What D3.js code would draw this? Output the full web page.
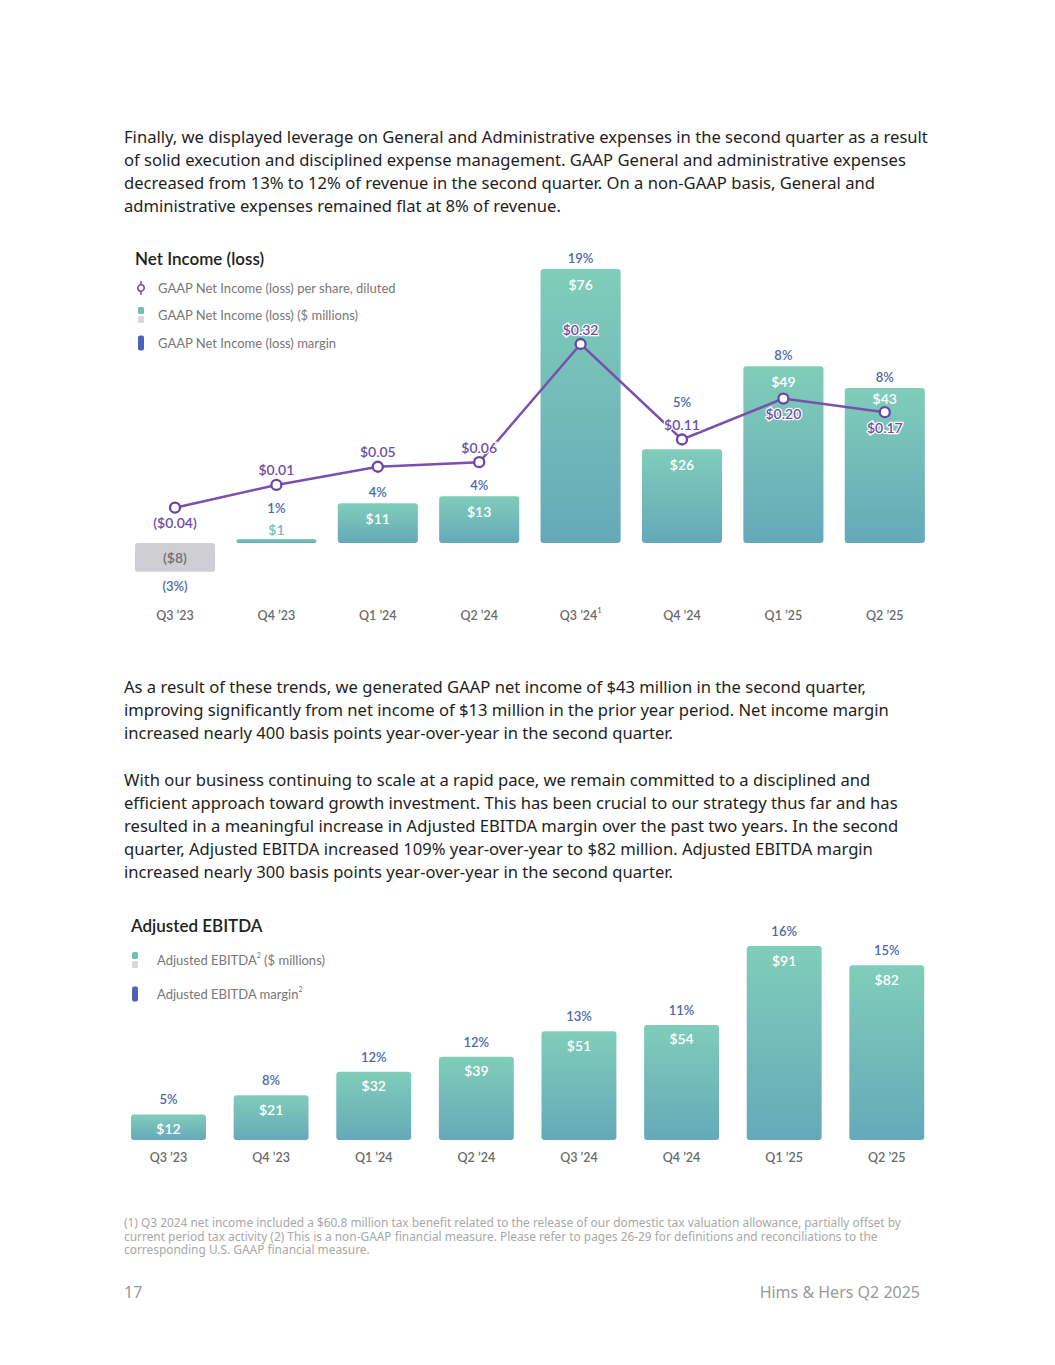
<!DOCTYPE html>
<html>
<head>
<meta charset="utf-8">
<script src="https://cdn.jsdelivr.net/npm/d3@7"></script>
<style>
  body { margin: 0; background: #fff; }
  svg { display: block; }
</style>
</head>
<body>
<div id="page"></div>
<script>
// quarters and values
const quarters = ["Q3 ’23", "Q4 ’23", "Q1 ’24", "Q2 ’24", "Q3 ’24", "Q4 ’24", "Q1 ’25", "Q2 ’25"];
const quarterNotes = ["", "", "", "", "1", "", "", ""];
const netIncome = [-8, 1, 11, 13, 76, 26, 49, 43];          // $ millions
const netIncomeMargin = [-3, 1, 4, 4, 19, 5, 8, 8];         // %
const eps = [-0.04, 0.01, 0.05, 0.06, 0.32, 0.11, 0.20, 0.17];
const ebitda = [12, 21, 32, 39, 51, 54, 91, 82];            // $ millions
const ebitdaMargin = [5, 8, 12, 12, 13, 11, 16, 15];        // %

const para1 = [
  "Finally, we displayed leverage on General and Administrative expenses in the second quarter as a result",
  "of solid execution and disciplined expense management. GAAP General and administrative expenses",
  "decreased from 13% to 12% of revenue in the second quarter. On a non-GAAP basis, General and",
  "administrative expenses remained flat at 8% of revenue."
];
const para2 = [
  "As a result of these trends, we generated GAAP net income of $43 million in the second quarter,",
  "improving significantly from net income of $13 million in the prior year period. Net income margin",
  "increased nearly 400 basis points year-over-year in the second quarter."
];
const para3 = [
  "With our business continuing to scale at a rapid pace, we remain committed to a disciplined and",
  "efficient approach toward growth investment. This has been crucial to our strategy thus far and has",
  "resulted in a meaningful increase in Adjusted EBITDA margin over the past two years. In the second",
  "quarter, Adjusted EBITDA increased 109% year-over-year to $82 million. Adjusted EBITDA margin",
  "increased nearly 300 basis points year-over-year in the second quarter."
];
const footnote = [
  "(1) Q3 2024 net income included a $60.8 million tax benefit related to the release of our domestic tax valuation allowance, partially offset by",
  "current period tax activity (2) This is a non-GAAP financial measure. Please refer to pages 26-29 for definitions and reconciliations to the",
  "corresponding U.S. GAAP financial measure."
];

const width = 1055, height = 1365;
const bodyFont = "'Noto Sans', 'Open Sans', sans-serif";
const chartFont = "Lato, 'Noto Sans', sans-serif";
const purple = "#6f4fa6", blue = "#4d67ad", grey = "#6f6f73";

const svg = d3.select("#page").append("svg")
  .attr("width", width)
  .attr("height", height);

const defs = svg.append("defs");
const grad = defs.append("linearGradient")
  .attr("id", "barGrad")
  .attr("x1", 0).attr("y1", 0).attr("x2", 0).attr("y2", 1);
grad.append("stop").attr("offset", "0%").attr("stop-color", "#80cdb9");
grad.append("stop").attr("offset", "100%").attr("stop-color", "#65a9b9");

function paragraph(lines, x, y0, lh) {
  svg.append("g").selectAll("text")
    .data(lines)
    .enter()
    .append("text")
    .attr("x", x)
    .attr("y", (d, i) => y0 + i * lh)
    .attr("dominant-baseline", "central")
    .style("font-family", bodyFont)
    .style("font-size", "16.6px")
    .style("fill", "#1e1e1e")
    .text(d => d);
}

paragraph(para1, 124, 136, 23.3);
paragraph(para2, 124, 686, 23);
paragraph(para3, 124, 779, 23);

const fmtMoney = v => v < 0 ? `($${-v})` : `$${v}`;
const fmtPct = v => v < 0 ? `(${-v}%)` : `${v}%`;
const fmtEps = v => v < 0 ? `($${(-v).toFixed(2)})` : `$${v.toFixed(2)}`;

function legend(g, items, textX) {
  items.forEach(it => {
    const row = g.append("g").attr("transform", `translate(0,${it.y})`);
    if (it.type === "line") {
      row.append("line").attr("x1", 6).attr("x2", 6).attr("y1", -7).attr("y2", 7)
        .style("stroke", purple).style("stroke-width", 1.5);
      row.append("circle").attr("cx", 6).attr("cy", 0).attr("r", 3.2)
        .style("fill", "#fff").style("stroke", purple).style("stroke-width", 1.5);
    } else if (it.type === "bar") {
      row.append("rect").attr("x", 3).attr("y", -8).attr("width", 6).attr("height", 7).attr("rx", 1.5)
        .style("fill", "#72c0b3");
      row.append("rect").attr("x", 3).attr("y", 1).attr("width", 6).attr("height", 7).attr("rx", 1.5)
        .style("fill", "#d8d8dc");
    } else {
      row.append("rect").attr("x", 3).attr("y", -7.5).attr("width", 6).attr("height", 15).attr("rx", 2)
        .style("fill", "#4a63b8");
    }
    const t = row.append("text")
      .attr("x", textX)
      .attr("y", 0)
      .attr("dominant-baseline", "central")
      .style("font-family", chartFont)
      .style("font-size", "13px")
      .style("fill", "#777");
    t.append("tspan").text(it.label);
    if (it.sup) {
      t.append("tspan").attr("dy", -5).style("font-size", "7px").text(it.sup);
      t.append("tspan").attr("dy", 5).text(it.after || "");
    }
  });
}

function xLabels(x, y, notes) {
  svg.append("g").selectAll("text")
    .data(quarters)
    .enter()
    .append("text")
    .attr("x", d => x(d) + x.bandwidth() / 2)
    .attr("y", y)
    .attr("text-anchor", "middle")
    .attr("dominant-baseline", "central")
    .style("font-family", chartFont)
    .style("font-size", "12.5px")
    .style("font-weight", 600)
    .style("fill", "#6a6a6a")
    .each(function(d, i) {
      const t = d3.select(this);
      t.append("tspan").text(d);
      if (notes && notes[i]) {
        t.append("tspan").attr("dy", -5).style("font-size", "7px").text(notes[i]);
      }
    });
}

// ---------- Net Income chart ----------
const x1 = d3.scaleBand()
  .domain(quarters)
  .range([124.3, 935.5])
  .paddingInner(0.21)
  .paddingOuter(0.105);
const y1 = d3.scaleLinear().domain([0, 76]).range([543, 269]);
const yEps = d3.scaleLinear().domain([0, 0.32]).range([489.5, 344]);

svg.append("text")
  .attr("x", 135).attr("y", 258)
  .attr("dominant-baseline", "central")
  .style("font-family", chartFont)
  .style("font-size", "17px")
  .style("font-weight", 600)
  .style("fill", "#222")
  .text("Net Income (loss)");

legend(svg.append("g").attr("transform", "translate(135,0)"), [
  { type: "line", y: 288, label: "GAAP Net Income (loss) per share, diluted" },
  { type: "bar", y: 315, label: "GAAP Net Income (loss) ($ millions)" },
  { type: "margin", y: 343, label: "GAAP Net Income (loss) margin" }
], 23);

const ni = quarters.map((q, i) => ({
  q, value: netIncome[i], margin: netIncomeMargin[i], eps: eps[i]
}));

// bars
svg.append("g").selectAll("rect")
  .data(ni)
  .enter()
  .append("rect")
  .attr("x", d => x1(d.q))
  .attr("width", x1.bandwidth())
  .attr("y", d => d.value >= 0 ? Math.min(y1(d.value), y1(0) - 4) : y1(0))
  .attr("height", d => Math.max(4, Math.abs(y1(d.value) - y1(0))))
  .attr("rx", 3)
  .style("fill", d => d.value >= 0 ? "url(#barGrad)" : "#cfcfd3");

// label layout
ni.forEach(d => {
  d.cx = x1(d.q) + x1.bandwidth() / 2;
  d.top = d.value >= 0 ? Math.min(y1(d.value), y1(0) - 4) : y1(0);
  d.bottom = d.value >= 0 ? y1(0) : y1(d.value);
  d.py = yEps(d.eps);
  d.tall = d.bottom - d.top > 30;
  // value label
  if (d.value < 0) { d.vy = (d.top + d.bottom) / 2; d.vInside = true; }
  else if (d.tall) {
    d.vy = d.py > d.top ? Math.min(d.top + 15, d.py - 14) : d.top + 15;
    d.vInside = true;
  }
  else { d.vy = d.top - 10; d.vInside = false; }
  // eps label
  const below = d.value < 0 || (d.py > d.top && d.py - d.top < 50);
  d.ey = below ? d.py + 15 : d.py - 15;
  // margin label
  const anchor = d.vInside ? d.top : d.vy - 10;
  if (d.value < 0) d.my = d.bottom + 14;
  else if (!below && d.py < anchor && anchor - d.py < 20) d.my = d.ey - 22;
  else d.my = anchor - 11;
});

svg.append("g").selectAll("text")
  .data(ni)
  .enter()
  .append("text")
  .attr("x", d => d.cx)
  .attr("y", d => d.vy)
  .attr("text-anchor", "middle")
  .attr("dominant-baseline", "central")
  .style("font-family", chartFont)
  .style("font-size", "14px")
  .style("font-weight", 600)
  .style("fill", d => d.value < 0 ? grey : (d.vInside ? "#fff" : "#6fc2b6"))
  .text(d => fmtMoney(d.value));

svg.append("g").selectAll("text")
  .data(ni)
  .enter()
  .append("text")
  .attr("x", d => d.cx)
  .attr("y", d => d.my)
  .attr("text-anchor", "middle")
  .attr("dominant-baseline", "central")
  .style("font-family", chartFont)
  .style("font-size", "13px")
  .style("font-weight", 600)
  .style("fill", blue)
  .text(d => fmtPct(d.margin));

// eps line
const line = d3.line().x(d => d.cx).y(d => d.py);
svg.append("path")
  .datum(ni)
  .attr("d", line)
  .style("fill", "none")
  .style("stroke", "#7a4fae")
  .style("stroke-width", 2.5);

svg.append("g").selectAll("circle")
  .data(ni)
  .enter()
  .append("circle")
  .attr("cx", d => d.cx)
  .attr("cy", d => d.py)
  .attr("r", 5)
  .style("fill", "#fff")
  .style("stroke", "#6b45a3")
  .style("stroke-width", 2.3);

svg.append("g").selectAll("text")
  .data(ni)
  .enter()
  .append("text")
  .attr("x", d => d.cx)
  .attr("y", d => d.ey)
  .attr("text-anchor", "middle")
  .attr("dominant-baseline", "central")
  .style("font-family", chartFont)
  .style("font-size", "14px")
  .style("font-weight", 600)
  .style("fill", purple)
  .style("stroke", "#fff")
  .style("stroke-width", 2.5)
  .style("paint-order", "stroke")
  .text(d => fmtEps(d.eps));

xLabels(x1, 615, quarterNotes);

// ---------- Adjusted EBITDA chart ----------
const x2 = d3.scaleBand()
  .domain(quarters)
  .range([117.2, 938.1])
  .paddingInner(0.27)
  .paddingOuter(0.135);
const y2 = d3.scaleLinear().domain([0, 91]).range([1140, 946]);

svg.append("text")
  .attr("x", 131).attr("y", 925)
  .attr("dominant-baseline", "central")
  .style("font-family", chartFont)
  .style("font-size", "17px")
  .style("font-weight", 600)
  .style("fill", "#222")
  .text("Adjusted EBITDA");

legend(svg.append("g").attr("transform", "translate(129,0)"), [
  { type: "bar", y: 960, label: "Adjusted EBITDA", sup: "2", after: " ($ millions)" },
  { type: "margin", y: 994, label: "Adjusted EBITDA margin", sup: "2" }
], 28);

const eb = quarters.map((q, i) => ({ q, value: ebitda[i], margin: ebitdaMargin[i] }));

svg.append("g").selectAll("rect")
  .data(eb)
  .enter()
  .append("rect")
  .attr("x", d => x2(d.q))
  .attr("width", x2.bandwidth())
  .attr("y", d => y2(d.value))
  .attr("height", d => y2(0) - y2(d.value))
  .attr("rx", 3)
  .style("fill", "url(#barGrad)");

svg.append("g").selectAll("text")
  .data(eb)
  .enter()
  .append("text")
  .attr("x", d => x2(d.q) + x2.bandwidth() / 2)
  .attr("y", d => y2(d.value) + 14)
  .attr("text-anchor", "middle")
  .attr("dominant-baseline", "central")
  .style("font-family", chartFont)
  .style("font-size", "14px")
  .style("font-weight", 600)
  .style("fill", "#fff")
  .text(d => fmtMoney(d.value));

svg.append("g").selectAll("text")
  .data(eb)
  .enter()
  .append("text")
  .attr("x", d => x2(d.q) + x2.bandwidth() / 2)
  .attr("y", d => y2(d.value) - 15)
  .attr("text-anchor", "middle")
  .attr("dominant-baseline", "central")
  .style("font-family", chartFont)
  .style("font-size", "13px")
  .style("font-weight", 600)
  .style("fill", blue)
  .text(d => fmtPct(d.margin));

xLabels(x2, 1157, null);

// ---------- footnotes & footer ----------
svg.append("g").selectAll("text")
  .data(footnote)
  .enter()
  .append("text")
  .attr("x", 124)
  .attr("y", (d, i) => 1222 + i * 13.5)
  .attr("dominant-baseline", "central")
  .style("font-family", bodyFont)
  .style("font-size", "11.9px")
  .style("fill", "#a8a8a8")
  .text(d => d);

svg.append("text")
  .attr("x", 124).attr("y", 1292)
  .attr("dominant-baseline", "central")
  .style("font-family", bodyFont)
  .style("font-size", "16px")
  .style("fill", "#9a9a9a")
  .text("17");

svg.append("text")
  .attr("x", 920).attr("y", 1292)
  .attr("text-anchor", "end")
  .attr("dominant-baseline", "central")
  .style("font-family", bodyFont)
  .style("font-size", "16px")
  .style("fill", "#9a9a9a")
  .text("Hims & Hers Q2 2025");
</script>
</body>
</html>
